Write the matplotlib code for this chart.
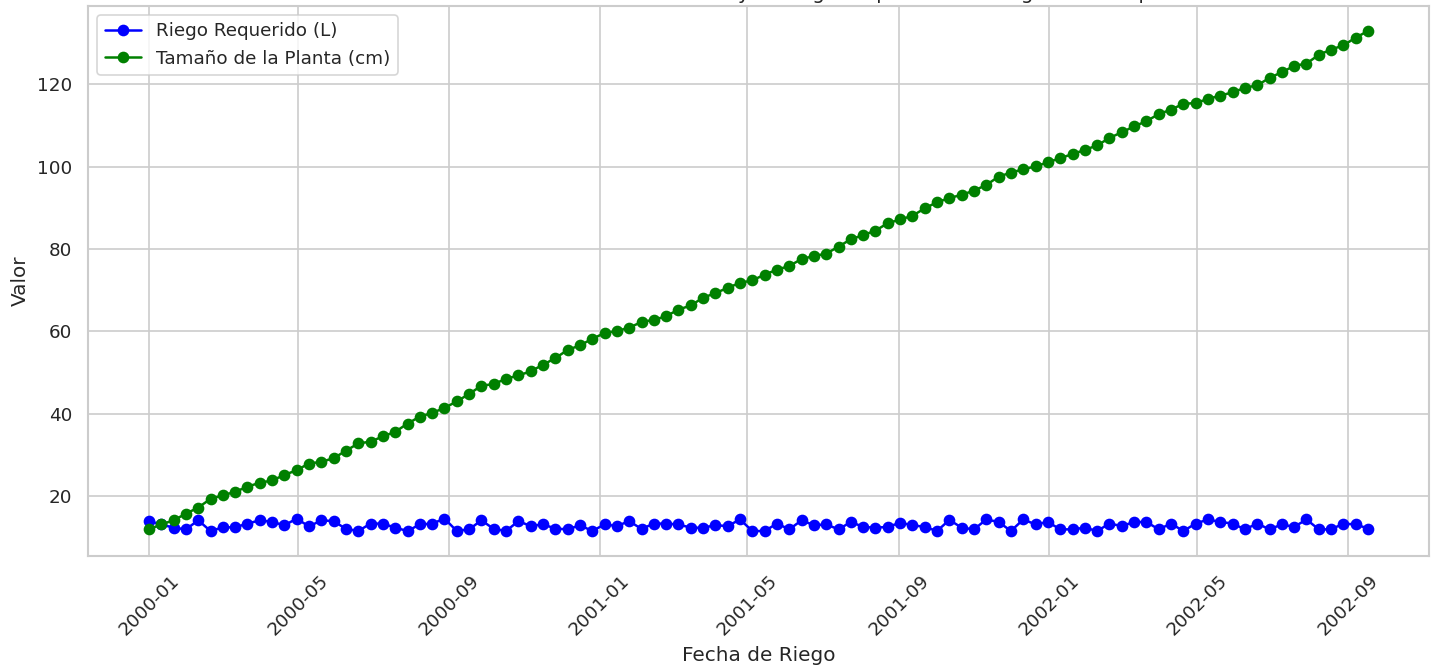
import pandas as pd
import matplotlib
matplotlib.use("Agg")
import matplotlib.pyplot as plt
import matplotlib.dates as mdates
import seaborn as sns

# fechas de riego: cada 10 dias desde 2000-01-01
fechas = pd.date_range("2000-01-01", periods=100, freq="10D")

riego_requerido = [
    13.9, 13.1, 12.3, 11.9, 14.1, 11.5, 12.4, 12.4, 13.3, 14.1,
    13.7, 12.9, 14.5, 12.6, 14.1, 13.9, 12.0, 11.5, 13.3, 13.3,
    12.3, 11.5, 13.1, 13.3, 14.5, 11.5, 11.9, 14.1, 12.0, 11.5,
    13.9, 12.7, 13.1, 12.1, 11.9, 12.9, 11.5, 13.1, 12.7, 13.9,
    12.0, 13.3, 13.3, 13.1, 12.3, 12.3, 12.9, 12.7, 14.3, 11.5,
    11.5, 13.3, 11.9, 14.1, 12.9, 13.1, 11.9, 13.7, 12.5, 12.3,
    12.5, 13.5, 12.9, 12.5, 11.5, 14.2, 12.3, 11.9, 14.3, 13.7,
    11.5, 14.3, 13.1, 13.7, 11.9, 11.9, 12.3, 11.5, 13.3, 12.7,
    13.7, 13.7, 11.9, 13.3, 11.5, 13.3, 14.3, 13.7, 13.3, 11.9,
    13.3, 11.9, 13.1, 12.5, 14.3, 11.9, 11.9, 13.3, 13.1, 12.1,
]

tamano_planta = [
    11.9, 13.1, 14.1, 15.7, 17.2, 19.3, 20.2, 21.0, 22.3, 23.2,
    23.8, 25.1, 26.3, 27.9, 28.3, 29.2, 31.0, 32.8, 33.2, 34.5,
    35.6, 37.6, 39.3, 40.2, 41.4, 43.0, 44.8, 46.8, 47.2, 48.5,
    49.3, 50.3, 51.9, 53.5, 55.5, 56.6, 58.2, 59.6, 60.1, 60.9,
    62.3, 62.8, 63.7, 65.3, 66.3, 68.2, 69.3, 70.6, 71.8, 72.4,
    73.8, 75.0, 75.9, 77.6, 78.3, 78.9, 80.6, 82.4, 83.4, 84.5,
    86.3, 87.2, 88.1, 89.9, 91.4, 92.4, 93.2, 94.2, 95.6, 97.6,
    98.6, 99.4, 100.1, 101.1, 102.1, 103.1, 104.1, 105.2, 107.0, 108.4,
    109.8, 111.1, 112.8, 113.9, 115.3, 115.5, 116.5, 117.3, 118.1, 119.2,
    119.8, 121.6, 123.0, 124.5, 125.1, 127.2, 128.5, 129.5, 131.4, 133.0,
]

titulo = "Relación entre el Tamaño de la Planta y el Riego Requerido a lo largo del Tiempo"

sns.set_theme(style="whitegrid")
plt.rcParams["font.family"] = ["DejaVu Sans"]

DPI = 120
fig = plt.figure(figsize=(1435 / DPI, 670 / DPI), dpi=DPI)
ax = fig.add_axes([88 / 1435, 1 - 556 / 670, (1429 - 88) / 1435, (556 - 6) / 670])

ax.plot(fechas, riego_requerido, marker="o", color="blue", label="Riego Requerido (L)")
ax.plot(fechas, tamano_planta, marker="o", color="green", label="Tamaño de la Planta (cm)")

ax.xaxis.set_major_locator(mdates.MonthLocator(bymonth=[1, 5, 9]))
ax.xaxis.set_major_formatter(mdates.DateFormatter("%Y-%m"))
plt.setp(ax.get_xticklabels(), rotation=45)

ax.set_xlabel("Fecha de Riego")
ax.set_ylabel("Valor")
ax.set_title(titulo, pad=4)
ax.legend(loc="upper left")

fig.savefig("out.png", dpi=DPI)
